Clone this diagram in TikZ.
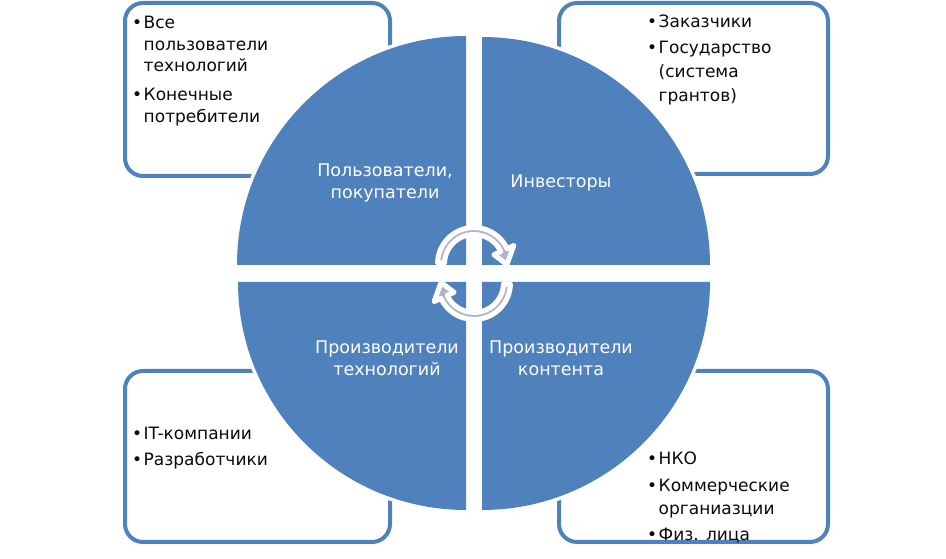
\documentclass[tikz,border=0pt]{standalone}
\usepackage{fontspec}
\setmainfont{DejaVu Sans}
\definecolor{qblue}{RGB}{79,129,189}
\definecolor{arrgray}{RGB}{178,178,202}
\definecolor{txtdark}{RGB}{10,10,10}
\begin{document}
\begin{tikzpicture}[x=1pt,y=1pt,
  infobox/.style={draw=qblue, line width=4pt, rounded corners=18pt, fill=white, inner sep=0pt, minimum height=171pt},
  quad/.style={fill=qblue, preaction={draw=white, line width=7pt}},
  cyclearrow/.style={fill=arrgray, draw=white, line width=5pt, line join=round},
  qlabel/.style={text=white, anchor=base, inner sep=0pt},
  blist/.style={text=txtdark, anchor=base west, inner sep=0pt}]
\useasboundingbox (0,0) rectangle (946,559);
\fill[white] (0,0) rectangle (946,559);

% outer boxes
\node[infobox, minimum width=265pt, minimum height=173pt] (boxTL) at (257.5,469.5) {};
\node[infobox, minimum width=269pt] (boxTR) at (693.5,470.5) {};
\node[infobox, minimum width=265pt] (boxBL) at (257.5,102.5) {};
\node[infobox, minimum width=269pt] (boxBR) at (693.5,102.5) {};

% quadrants
\path[quad] (466,294) -- ++(-229,0) arc[start angle=180, end angle=90, radius=229] -- cycle;
\path[quad] (482,294) -- ++(0,228) arc[start angle=90, end angle=0, radius=228] -- cycle;
\path[quad] (466,277) -- ++(-228,0) arc[start angle=180, end angle=270, radius=228] -- cycle;
\path[quad] (482,277) -- ++(228,0) arc[start angle=0, end angle=-90, radius=228] -- cycle;

% cycle arrows
\begin{scope}[shift={(474,295)}]
\path[cyclearrow] (178:36.5) arc[start angle=178, end angle=25, radius=36.5]
  -- (25:44) -- (-1:33) -- (25:22) -- (25:29.5)
  arc[start angle=25, end angle=178, radius=29.5] -- cycle;
\end{scope}
\begin{scope}[shift={(474,276)}]
\path[cyclearrow] (-2:36.5) arc[start angle=-2, end angle=-155, radius=36.5]
  -- (-155:44) -- (-181:33) -- (-155:22) -- (-155:29.5)
  arc[start angle=-155, end angle=-2, radius=29.5] -- cycle;
\end{scope}

% quadrant labels
\node[qlabel] (lblTL) at (385,382) {\fontsize{17.5}{22}\selectfont\begin{tabular}[t]{@{}c@{}}Пользователи,\\покупатели\end{tabular}};
\node[qlabel] (lblTR) at (561,371) {\fontsize{17.5}{22}\selectfont\begin{tabular}[t]{@{}c@{}}Инвесторы\end{tabular}};
\node[qlabel] (lblBL) at (387,205) {\fontsize{17.5}{22}\selectfont\begin{tabular}[t]{@{}c@{}}Производители\\технологий\end{tabular}};
\node[qlabel] (lblBR) at (561,205) {\fontsize{17.5}{22}\selectfont\begin{tabular}[t]{@{}c@{}}Производители\\контента\end{tabular}};

% box texts
\node[blist] (txtTL) at (132,530) {\fontsize{17}{21.5}\selectfont\begin{tabular}[t]{@{}l@{\hspace{1.5pt}}l@{}}
•&Все\\ &пользователи\\ &технологий\\[7.5pt]
•&Конечные\\ &потребители\end{tabular}};
\node[blist] (txtTR) at (647,531) {\fontsize{17}{24}\selectfont\begin{tabular}[t]{@{}l@{\hspace{1.5pt}}l@{}}
•&Заказчики\\[2pt]
•&Государство\\ &(система\\ &грантов)\end{tabular}};
\node[blist] (txtBL) at (132,119) {\fontsize{17}{25.5}\selectfont\begin{tabular}[t]{@{}l@{\hspace{1.5pt}}l@{}}
•&IT-компании\\
•&Разработчики\end{tabular}};
\node[blist] (txtBR) at (647,94) {\fontsize{17}{23}\selectfont\begin{tabular}[t]{@{}l@{\hspace{1.5pt}}l@{}}
•&НКО\\[3.5pt]
•&Коммерческие\\ &органиазции\\[3.5pt]
•&Физ. лица\end{tabular}};
\end{tikzpicture}
\end{document}
